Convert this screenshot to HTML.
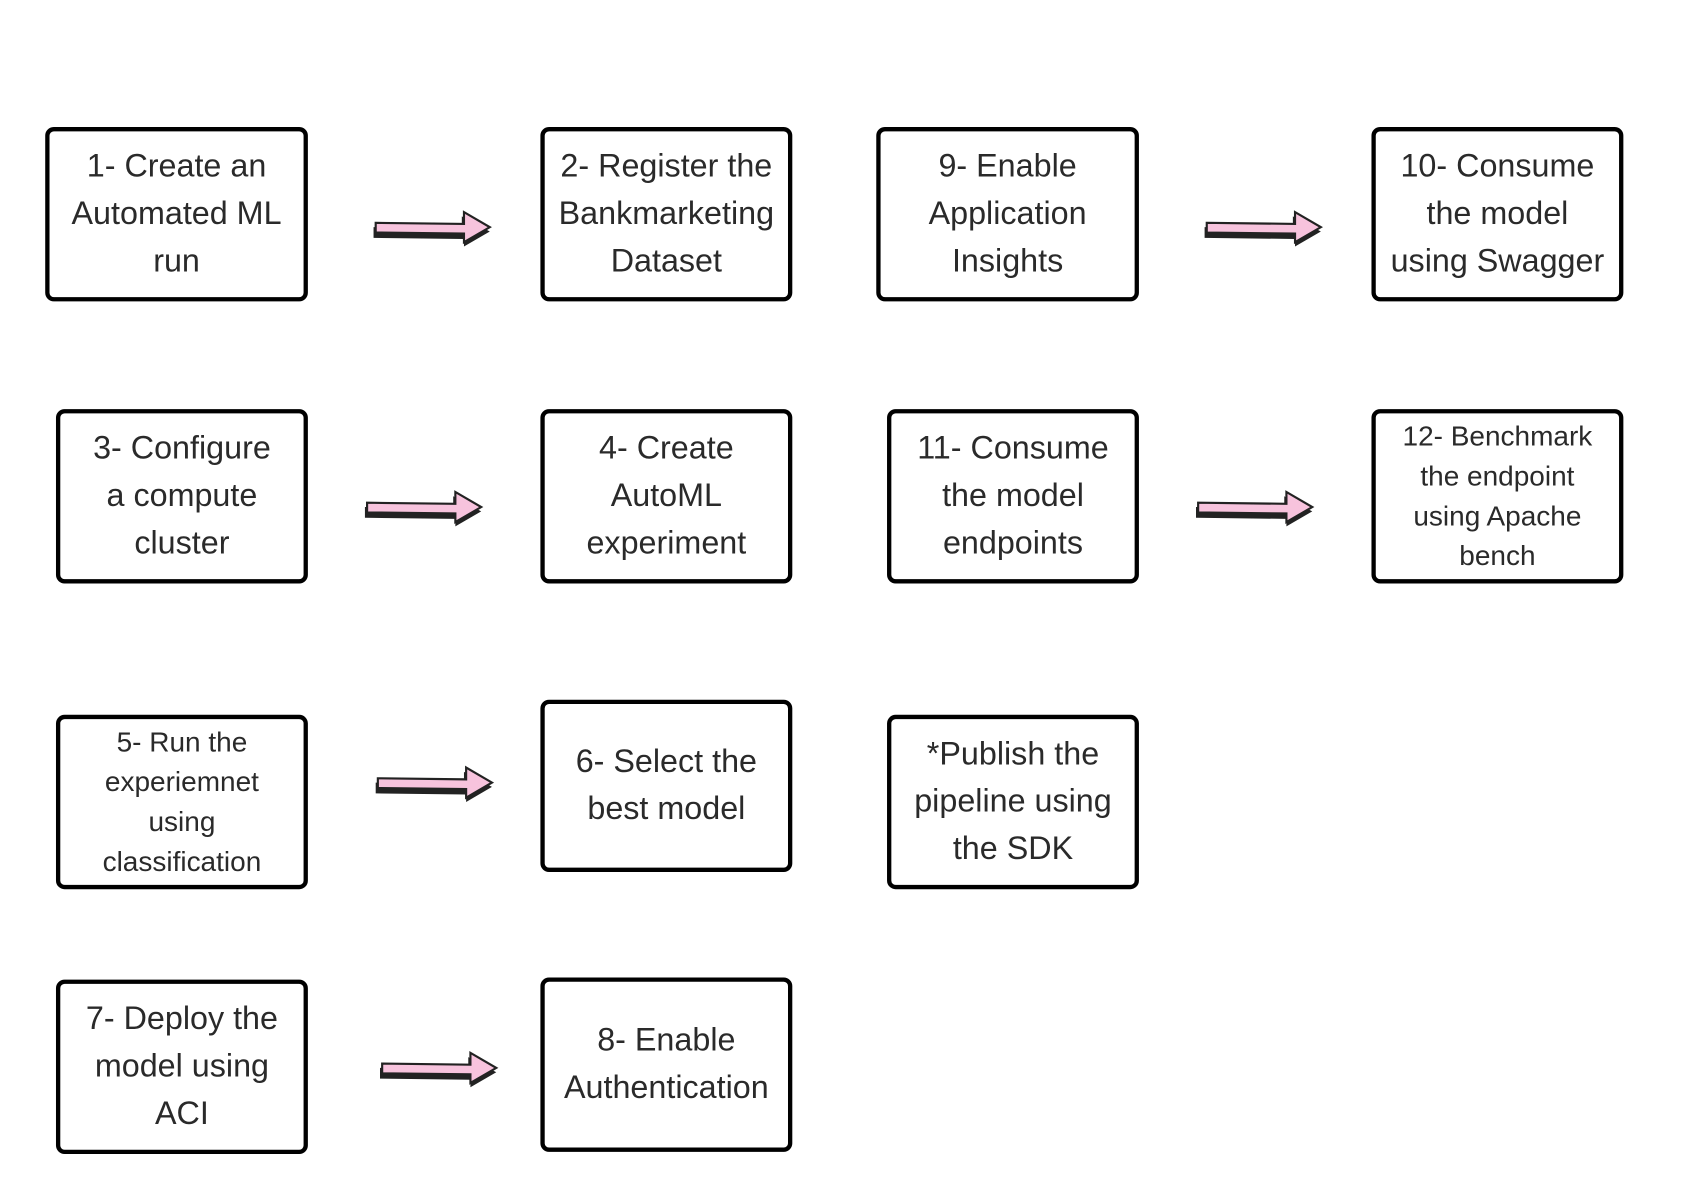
<!DOCTYPE html>
<html><head><style>
body{margin:0;width:1688px;height:1200px;background:#fff;overflow:hidden}
#w{position:absolute;left:0;top:0;width:1568px;height:1115px;transform:scale(1.0765);transform-origin:0 0}
.b{position:absolute;box-sizing:border-box;border:4px solid #000;border-radius:8px;display:flex;align-items:center;justify-content:center;text-align:center;font-family:"Liberation Sans",sans-serif;font-size:30px;line-height:44px;color:#2a2a2a}
.s{font-size:26px;line-height:37px}
svg{position:absolute}
</style></head><body><div id="w">
<div class="b" style="left:42px;top:118px;width:244px;height:162px">1- Create an<br>Automated ML<br>run</div>
<div class="b" style="left:502px;top:118px;width:234px;height:162px">2- Register the<br>Bankmarketing<br>Dataset</div>
<div class="b" style="left:814px;top:118px;width:244px;height:162px">9- Enable<br>Application<br>Insights</div>
<div class="b" style="left:1274px;top:118px;width:234px;height:162px">10- Consume<br>the model<br>using Swagger</div>
<div class="b" style="left:52px;top:380px;width:234px;height:162px">3- Configure<br>a compute<br>cluster</div>
<div class="b" style="left:502px;top:380px;width:234px;height:162px">4- Create<br>AutoML<br>experiment</div>
<div class="b" style="left:824px;top:380px;width:234px;height:162px">11- Consume<br>the model<br>endpoints</div>
<div class="b s" style="left:1274px;top:380px;width:234px;height:162px">12- Benchmark<br>the endpoint<br>using Apache<br>bench</div>
<div class="b s" style="left:52px;top:664px;width:234px;height:162px">5- Run the<br>experiemnet<br>using<br>classification</div>
<div class="b" style="left:502px;top:650px;width:234px;height:160px">6- Select the<br>best model</div>
<div class="b" style="left:824px;top:664px;width:234px;height:162px">*Publish the<br>pipeline using<br>the SDK</div>
<div class="b" style="left:52px;top:910px;width:234px;height:162px">7- Deploy the<br>model using<br>ACI</div>
<div class="b" style="left:502px;top:908px;width:234px;height:162px">8- Enable<br>Authentication</div>

<svg width="0" height="0"><defs><g id="ar">
<polygon points="0,4 82,5 82,-6 108,8 84,22 84,15 0,14" fill="#222"/>
<polygon points="2,0 84,1 84,-10 108,4 84,18 84,10 2,9" fill="#f7c3dd" stroke="#222" stroke-width="2"/>
</g></defs></svg>
<svg style="left:346px;top:195px" width="115" height="40"><use href="#ar" x="1" y="12"/></svg>
<svg style="left:1118px;top:195px" width="115" height="40"><use href="#ar" x="1" y="12"/></svg>
<svg style="left:338px;top:455px" width="115" height="40"><use href="#ar" x="1" y="12"/></svg>
<svg style="left:1110px;top:455px" width="115" height="40"><use href="#ar" x="1" y="12"/></svg>
<svg style="left:348px;top:711px" width="115" height="40"><use href="#ar" x="1" y="12"/></svg>
<svg style="left:352px;top:976px" width="115" height="40"><use href="#ar" x="1" y="12"/></svg>
</div></body></html>
